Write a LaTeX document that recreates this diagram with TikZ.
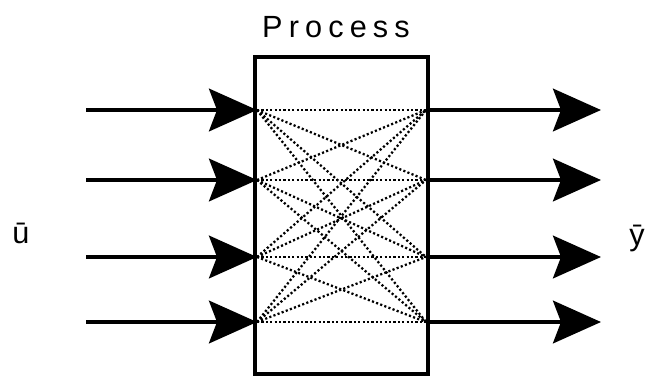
\documentclass[tikz,border=0pt]{standalone}
\usepackage{fontspec}
\setmainfont{Liberation Sans}
\usetikzlibrary{arrows.meta}
\tikzstyle{wire} = [line width=2.8pt, -{Stealth[length=36pt,width=32pt,inset=6pt]}]
\tikzstyle{link} = [line width=1.7pt, dash pattern=on 1.6pt off 1.7pt]
\tikzstyle{tag} = [inner sep=0pt, font=\fontsize{23}{26}\selectfont]

\begin{document}
\begin{tikzpicture}[x=0.75pt,y=-0.75pt]
			\useasboundingbox (0,0) rectangle (648,379);
			\node[draw, line width=2.4pt, minimum width=129.75pt, minimum height=237.75pt, inner sep=0pt] (box) at (341.5,215.5) {};
			\node[tag, font=\fontsize{23}{26}\selectfont\addfontfeature{LetterSpace=20}] (title) at (336,27) {Process};
			\node[tag] (u) at (21,233) {\=u};
			\node[tag] (y) at (637,238) {\=y};
			% ports on the box
			\foreach \i/\yy in {1/110,2/180,3/257,4/322} {
				\coordinate (in\i) at (257,\yy);
				\coordinate (out\i) at (426,\yy);
				\coordinate (src\i) at (86,\yy);
				\coordinate (dst\i) at (601,\yy);
				\draw[wire] (src\i) -- (in\i);
				\draw[wire] (out\i) -- (dst\i);
			}
			\foreach \i in {1,...,4} {
				\foreach \j in {1,...,4} {
					\draw[link] (in\i) -- (out\j);
				}
			}
		\end{tikzpicture}
\end{document}
